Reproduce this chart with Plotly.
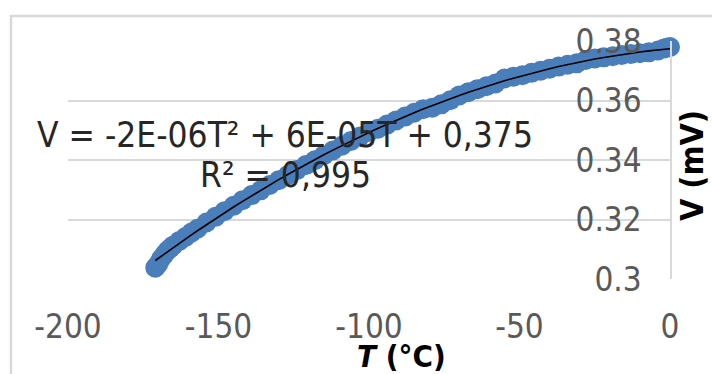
import numpy as np
import plotly.graph_objects as go

T_vals = [-171, -170, -169, -168, -167, -166, -165, -163, -161, -159, -157, -154,
          -151, -148, -145, -142, -139, -136, -133, -130, -127, -124, -121, -118,
          -115, -112, -109, -106, -103, -100, -97, -94, -91, -88, -85, -82, -79,
          -76, -73, -70, -67, -64, -61, -58, -55, -52, -49, -46, -43, -40, -37,
          -34, -31, -28, -25, -22, -19, -16, -13, -10, -7, -4, -2, -1, 0]
V_vals = [0.3038, 0.3051, 0.3069, 0.3082, 0.3095, 0.3104, 0.3113, 0.3128, 0.3141,
          0.3156, 0.3169, 0.3190, 0.3209, 0.3228, 0.3246, 0.3265, 0.3282, 0.3298,
          0.3316, 0.3332, 0.3349, 0.3366, 0.3383, 0.3399, 0.3416, 0.3432, 0.3448,
          0.3464, 0.3479, 0.3494, 0.3505, 0.3519, 0.3533, 0.3546, 0.3559, 0.3571,
          0.3576, 0.3587, 0.3601, 0.3617, 0.3628, 0.3638, 0.3648, 0.3657, 0.3674,
          0.3680, 0.3685, 0.3693, 0.3700, 0.3707, 0.3714, 0.3720, 0.3725, 0.3736,
          0.3741, 0.3745, 0.3749, 0.3753, 0.3756, 0.3759, 0.3762, 0.3768, 0.3775,
          0.3777, 0.3780]

x_ticks = [-200, -150, -100, -50, 0]
x_tick_text = ["-200", "-150", "-100", "-50", "0"]
y_ticks = [0.3, 0.32, 0.34, 0.36, 0.38]
y_tick_text = ["0.3", "0.32", "0.34", "0.36", "0.38"]

eq_text = "V = -2E-06T² + 6E-05T + 0,375"
r2_text = "R² = 0,995"

# Polynomial trendline (order 2) fitted to the data, as the spreadsheet does
coef = np.polyfit(T_vals, V_vals, 2)
T_arr = np.array(T_vals, dtype=float)
V_fit = np.polyval(coef, T_arr)

FONT = "DejaVu Sans Condensed, DejaVu Sans"
GRID = "#d9d9d9"

fig = go.Figure()
fig.add_trace(go.Scatter(x=T_vals, y=V_vals, mode="markers",
                         marker=dict(size=20, color="#4a7ebb", line=dict(width=0)),
                         showlegend=False, hoverinfo="skip", cliponaxis=False))
fig.add_trace(go.Scatter(x=T_arr, y=V_fit, mode="lines",
                         line=dict(color="black", width=1.6),
                         showlegend=False, hoverinfo="skip"))

fig.update_layout(
    width=712, height=374,
    margin=dict(l=68, r=42, t=41, b=95),
    paper_bgcolor="white", plot_bgcolor="white",
    font=dict(family=FONT, size=33, color="#595959"),
    xaxis=dict(range=[-200, 0], tickvals=x_ticks, ticktext=x_tick_text,
               showgrid=False, zeroline=False, showline=False, ticks="",
               ticklabelstandoff=25, ticklabeloverflow="allow",
               tickfont=dict(family=FONT, size=33, color="#595959")),
    yaxis=dict(range=[0.3, 0.38], tickvals=y_ticks, ticktext=y_tick_text,
               side="right", ticklabelposition="inside", ticklabelstandoff=32,
               ticklabeloverflow="allow",
               showgrid=True, gridcolor=GRID, gridwidth=2,
               zeroline=False, showline=True, linecolor=GRID, linewidth=2,
               ticks="",
               tickfont=dict(family=FONT, size=33, color="#595959")),
    shapes=[dict(type="rect", xref="paper", yref="paper",
                 x0=(11 - 68) / 602, x1=(740 - 68) / 602,
                 y0=(279 - 400) / 238, y1=(279 - 16) / 238,
                 line=dict(color=GRID, width=2.5), fillcolor="rgba(0,0,0,0)",
                 layer="below")],
    annotations=[
        dict(text=eq_text, xref="paper", yref="paper",
             x=(285 - 68) / 602, y=(279 - 135) / 238, showarrow=False,
             xanchor="center", yanchor="middle",
             font=dict(family=FONT, size=35, color="#262626")),
        dict(text=r2_text, xref="paper", yref="paper",
             x=(285 - 68) / 602, y=(279 - 175) / 238, showarrow=False,
             xanchor="center", yanchor="middle",
             font=dict(family=FONT, size=35, color="#262626")),
        dict(text="<b><i>T</i> (°C)</b>", xref="paper", yref="paper",
             x=(401 - 68) / 602, y=(279 - 356) / 238, showarrow=False,
             xanchor="center", yanchor="middle",
             font=dict(family=FONT, size=31, color="black")),
        dict(text="<b>V (mV)</b>", xref="paper", yref="paper",
             x=(692 - 68) / 602, y=(279 - 166) / 238, showarrow=False,
             xanchor="center", yanchor="middle", textangle=-90,
             font=dict(family=FONT, size=32, color="black")),
    ],
)

fig.write_html("out.html")
